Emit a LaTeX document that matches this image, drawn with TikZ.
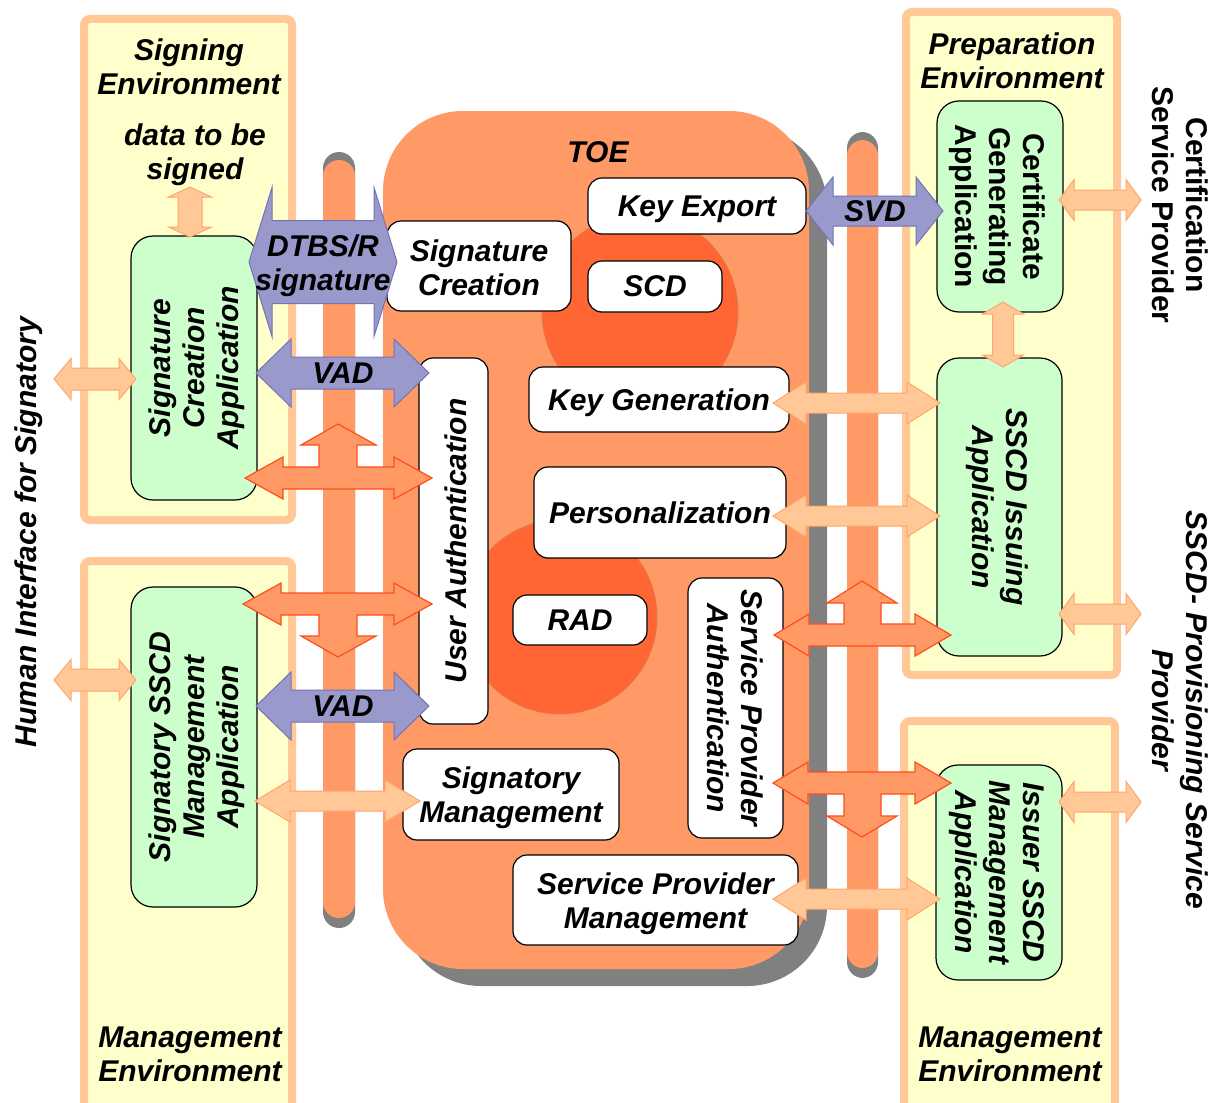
\documentclass[tikz,border=0pt]{standalone}
\usepackage{fontspec}
\setmainfont{Liberation Sans}
\usetikzlibrary{fit}
\definecolor{envfill}{HTML}{FFFFCC}
\definecolor{envline}{HTML}{FFC896}
\definecolor{appfill}{HTML}{CCFFCC}
\definecolor{toefill}{HTML}{FF9966}
\definecolor{circfill}{HTML}{FF6633}
\definecolor{circline}{HTML}{E07A4A}
\definecolor{shadowgray}{HTML}{808080}
\definecolor{vadfill}{HTML}{9999CC}
\definecolor{vadline}{HTML}{7474B4}
\definecolor{pfill}{HTML}{FFC896}
\definecolor{pline}{HTML}{FFA56E}
\definecolor{ofill}{HTML}{FF9966}
\definecolor{oline}{HTML}{FF4D1A}
% horizontal double block arrow: style, xleft, xright, y, shaft half, head half, head length
\newcommand{\hdblarrow}[7]{%
  \draw[#1] (#2,#4) -- ({#2+#7},{#4-#6}) -- ({#2+#7},{#4-#5}) -- ({#3-#7},{#4-#5}) -- ({#3-#7},{#4-#6}) -- (#3,#4) -- ({#3-#7},{#4+#6}) -- ({#3-#7},{#4+#5}) -- ({#2+#7},{#4+#5}) -- ({#2+#7},{#4+#6}) -- cycle;}
% vertical double block arrow: style, x, ytop, ybottom, shaft half, head half, head length
\newcommand{\vdblarrow}[7]{%
  \draw[#1] (#2,#3) -- ({#2+#6},{#3+#7}) -- ({#2+#5},{#3+#7}) -- ({#2+#5},{#4-#7}) -- ({#2+#6},{#4-#7}) -- (#2,#4) -- ({#2-#6},{#4-#7}) -- ({#2-#5},{#4-#7}) -- ({#2-#5},{#3+#7}) -- ({#2-#6},{#3+#7}) -- cycle;}
\begin{document}
\begin{tikzpicture}[x=0.5pt,y=-0.5pt,
  font=\fontsize{15}{17}\selectfont\bfseries\itshape,
  envbox/.style={draw=envline, fill=envfill, line width=4pt, rounded corners=3pt, inner sep=0pt},
  appbox/.style={draw=black, fill=appfill, line width=0.6pt, rounded corners=11pt, inner sep=0pt},
  wbox/.style={draw=black, fill=white, line width=0.6pt, rounded corners=7pt, inner sep=0pt},
  lbl/.style={align=center, inner sep=0pt},
  dlbl/.style={align=center, inner sep=0pt, yshift=-1.7pt},
  upr/.style={font=\fontsize{15}{17}\selectfont\bfseries},
  purplearrow/.style={fill=vadfill, draw=vadline, line width=0.5pt},
  peacharrow/.style={fill=pfill, draw=pline, line width=0.5pt},
  orangearrow/.style={fill=ofill, draw=oline, line width=0.6pt},
  vbar/.style={fill=toefill, rounded corners=8pt},
  vbarshadow/.style={fill=shadowgray, rounded corners=8pt},
  zone/.style={circle, fill=circfill, draw=circline, line width=0.4pt, inner sep=0pt},
]
\useasboundingbox (0,0) rectangle (1218,1102);
\clip (0,0) rectangle (1218,1102);
\fill[white] (0,0) rectangle (1218,1102);

% environments
\node[envbox, fit={(84,19) (292,520)}] (signenv) {};
\node[envbox, fit={(84,561) (292,1115)}] (mgmtenvL) {};
\node[envbox, fit={(906,12) (1117,675)}] (prepenv) {};
\node[envbox, fit={(904,721) (1115,1115)}] (mgmtenvR) {};
\node[lbl] (signenvT) at (189,67) {Signing\\Environment};
\node[dlbl] (dtbsT) at (195,151) {data to be\\signed};
\node[lbl] (mgmtenvLT) at (190,1054) {Management\\Environment};
\node[lbl] (prepenvT) at (1012,61) {Preparation\\Environment};
\node[lbl] (mgmtenvRT) at (1010,1054) {Management\\Environment};

% vertical bars
\fill[vbarshadow] (323,152) rectangle (355,928);
\fill[vbar] (323,160) rectangle (355,918);
\fill[vbarshadow] (847,132) rectangle (878,978);
\fill[vbar] (847,140) rectangle (878,968);

% TOE
\fill[shadowgray, rounded corners=40pt] (401,127) rectangle (827,986);
\node[fill=toefill, rounded corners=40pt, inner sep=0pt, fit={(383,111) (809,969)}] (toe) {};
\node[lbl] (toeT) at (598,152) {TOE};
\node[zone, minimum size=98pt] (scdzone) at (640,312) {};
\node[zone, minimum size=97pt] (radzone) at (560,617) {};

% white function boxes
\node[wbox, fit={(588,178) (806,234)}] (keyexp) {};
\node[dlbl] at (keyexp) {Key Export};
\node[wbox, fit={(387,221) (571,311)}] (sigcre) {};
\node[lbl, yshift=-1pt] at (sigcre) {Signature\\Creation};
\node[wbox, fit={(588,261) (722,312)}] (scd) {};
\node[lbl] at (scd) {SCD};
\node[wbox, fit={(529,367) (789,432)}] (keygen) {};
\node[dlbl] at (keygen) {Key Generation};
\node[wbox, fit={(534,467) (786,558)}] (perso) {};
\node[lbl] at (perso) {Personalization};
\node[wbox, fit={(513,595) (647,645)}] (rad) {};
\node[lbl] at (rad) {RAD};
\node[wbox, fit={(419,358) (488,724)}] (userauth) {};
\node[lbl, xshift=1pt, rotate=90] at (userauth) {User Authentication};
\node[wbox, fit={(688,578) (783,838)}] (spauth) {};
\node[lbl, rotate=-90] at (spauth) {Service Provider\\Authentication};
\node[wbox, fit={(403,749) (619,840)}] (sigmgmt) {};
\node[dlbl] at (sigmgmt) {Signatory\\Management};
\node[wbox, fit={(513,855) (798,945)}] (spmgmt) {};
\node[dlbl] at (spmgmt) {Service Provider\\Management};

% application boxes
\node[appbox, fit={(131,236) (257,500)}] (sca) {};
\node[lbl, xshift=1.2pt, rotate=90] at (sca) {Signature\\Creation\\Application};
\node[appbox, fit={(131,587) (257,907)}] (ssma) {};
\node[lbl, xshift=1.5pt, rotate=90] at (ssma) {Signatory SSCD\\Management\\Application};
\node[appbox, fit={(937,101) (1063,312)}] (cga) {};
\node[lbl, upr, xshift=-1.2pt, rotate=-90] at (cga) {Certificate\\Generating\\Application};
\node[appbox, fit={(937,358) (1062,656)}] (sia) {};
\node[lbl, xshift=-1pt, rotate=-90] at (sia) {SSCD Issuing\\Application};
\node[appbox, fit={(936,765) (1062,980)}] (isma) {};
\node[lbl, xshift=-1pt, rotate=-90] at (isma) {Issuer SSCD\\Management\\Application};

% outside labels
\node[lbl, rotate=90] (human) at (29,532) {Human Interface for Signatory};
\node[lbl, upr, rotate=-90] (csp) at (1180,205) {Certification\\Service Provider};
\node[lbl, rotate=-90] (sscdpsp) at (1180,710) {SSCD- Provisioning Service\\Provider};

% peach arrows
\hdblarrow{peacharrow}{54}{136}{379}{11}{20.5}{17}
\hdblarrow{peacharrow}{54}{136}{680}{11}{20.5}{17}
\vdblarrow{peacharrow}{190}{187}{237}{12}{21.5}{10}
\hdblarrow{peacharrow}{1059}{1141}{200}{10}{20.5}{15}
\vdblarrow{peacharrow}{1003}{302}{367}{10.5}{20.5}{12}
\hdblarrow{peacharrow}{1059}{1141}{614}{10}{20.5}{15}
\hdblarrow{peacharrow}{1059}{1141}{802}{10}{20.5}{15}
\hdblarrow{peacharrow}{773}{940}{403}{10}{21}{33}
\hdblarrow{peacharrow}{773}{940}{516}{10}{21}{33}
\hdblarrow{peacharrow}{773}{940}{899}{10}{21}{33}
\hdblarrow{peacharrow}{255}{420}{801}{10}{21}{35}

% purple arrows
\hdblarrow{purplearrow}{249}{397}{262}{41.5}{74.5}{23}
\node[dlbl] (dtbsr) at (323,262) {DTBS/R\\signature};
\hdblarrow{purplearrow}{256}{429}{373}{16}{34}{35}
\node[lbl] (vad1) at (343,373) {VAD};
\hdblarrow{purplearrow}{256}{429}{706}{16}{34}{35}
\node[lbl] (vad2) at (343,706) {VAD};
\hdblarrow{purplearrow}{806}{943}{211}{15}{34}{27}
\node[lbl] (svd) at (875,211) {SVD};

% orange T arrows
\draw[orangearrow] (245,478) -- (283,457) -- (283,467) -- (319,467) -- (319,445) -- (301,445) -- (338,424) -- (376,445) -- (357,445) -- (357,467) -- (394,467) -- (394,457) -- (432,478) -- (394,499) -- (394,489) -- (283,489) -- (283,499) -- cycle;
\draw[orangearrow] (243,604) -- (281,583) -- (281,593) -- (394,593) -- (394,583) -- (432,604) -- (394,625) -- (394,615) -- (357,615) -- (357,636) -- (376,636) -- (338,657) -- (301,636) -- (319,636) -- (319,615) -- (281,615) -- (281,625) -- cycle;
\draw[orangearrow] (774,635) -- (809,614) -- (809,624) -- (844,624) -- (844,603) -- (827,603) -- (862,581) -- (897,603) -- (881,603) -- (881,624) -- (915,624) -- (915,614) -- (951,635) -- (915,656) -- (915,646) -- (809,646) -- (809,656) -- cycle;
\draw[orangearrow] (773,783) -- (808,762) -- (808,772) -- (915,772) -- (915,762) -- (951,783) -- (915,804) -- (915,794) -- (881,794) -- (881,816) -- (897,816) -- (862,837) -- (827,816) -- (844,816) -- (844,794) -- (808,794) -- (808,804) -- cycle;
\end{tikzpicture}
\end{document}
